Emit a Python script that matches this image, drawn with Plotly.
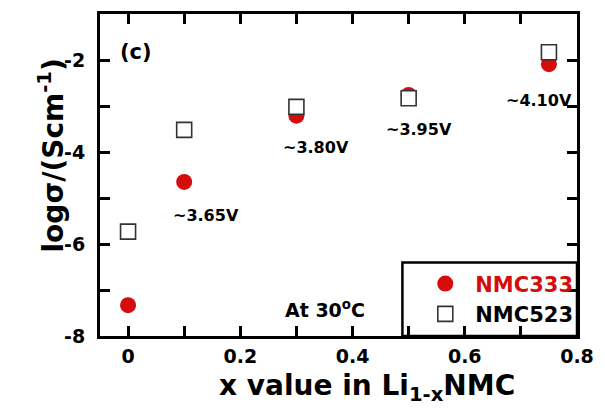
import plotly.graph_objects as go

# Delithiation level x in Li(1-x)NMC
x_values = [0, 0.1, 0.3, 0.5, 0.75]
# log conductivity (S/cm) at 30 C
nmc333 = [-7.33, -4.65, -3.21, -2.76, -2.09]
nmc523 = [-5.73, -3.52, -3.02, -2.83, -1.83]

# Approximate cell voltages annotated next to the points
voltage_labels = ["~3.65V", "~3.80V", "~3.95V", "~4.10V"]
voltage_x = [0.139, 0.335, 0.519, 0.733]
voltage_y = [-5.39, -3.91, -3.50, -2.87]

x_major = [0, 0.2, 0.4, 0.6, 0.8]
x_labels = ["0", "0.2", "0.4", "0.6", "0.8"]
x_minor = [0.1, 0.3, 0.5, 0.7]
y_major = [-8, -6, -4, -2]
y_labels = ["-8", "-6", "-4", "-2"]
y_minor = [-7, -5, -3]

RED = "#d60c0c"
FONT = "DejaVu Sans"

fig = go.Figure()
fig.add_trace(go.Scatter(
    x=x_values, y=nmc333, mode="markers",
    name=f"<span style='color:{RED}'>NMC333</span>",
    marker=dict(symbol="circle", size=16, color=RED, line=dict(width=0)),
))
fig.add_trace(go.Scatter(
    x=x_values, y=nmc523, mode="markers", name="NMC523",
    marker=dict(symbol="square", size=15, color="white",
                line=dict(width=1.6, color="#333333")),
))

for txt, vx, vy in zip(voltage_labels, voltage_x, voltage_y):
    fig.add_annotation(x=vx, y=vy, text=txt, showarrow=False,
                       font=dict(family=FONT, size=16, color="black", weight="bold"))

fig.add_annotation(x=0.351, y=-7.42, text="At 30<sup>o</sup>C", showarrow=False,
                   font=dict(family=FONT, size=19, color="black", weight="bold"))
fig.add_annotation(x=0.015, y=-1.83, text="(c)", showarrow=False,
                   font=dict(family=FONT, size=21, color="black", weight="bold"))

# axis titles as annotations so their positions can be set freely
fig.add_annotation(xref="paper", yref="paper", x=-0.144, y=0.56,
                   text="logσ/(Scm<sup>-1</sup>)", textangle=-90, showarrow=False,
                   font=dict(family=FONT, size=28, color="black", weight="bold"))
fig.add_annotation(xref="paper", yref="paper", x=0.56, y=-0.16, yanchor="middle",
                   text="x value in Li<sub>1-x</sub>NMC", showarrow=False,
                   font=dict(family=FONT, size=28, color="black", weight="bold"))

# legend frame
fig.add_shape(type="rect", xref="paper", yref="paper", x0=0.634, x1=1.0, y0=0.0, y1=0.228,
              line=dict(color="black", width=2.5), fillcolor="white", layer="below")

axis_common = dict(
    showline=True, linecolor="black", linewidth=3, mirror="allticks",
    ticks="inside", ticklen=10, tickwidth=2.5, tickcolor="black",
    showgrid=False, zeroline=False,
    tickfont=dict(family=FONT, size=19, color="black", weight="bold"),
)
minor_common = dict(ticks="inside", ticklen=10, tickwidth=2.5, tickcolor="black",
                    showgrid=False)

fig.update_layout(
    width=605, height=410,
    margin=dict(l=100, r=19, t=11, b=74),
    paper_bgcolor="white", plot_bgcolor="rgba(0,0,0,0)",
    font=dict(family=FONT, color="black", weight="bold"),
    xaxis=dict(range=[-0.05, 0.8], tickvals=x_major, ticktext=x_labels,
               ticklabelstandoff=1, minor=dict(tickvals=x_minor, **minor_common),
               **axis_common),
    yaxis=dict(range=[-8, -1], tickvals=y_major, ticktext=y_labels,
               ticklabelstandoff=8, minor=dict(tickvals=y_minor, **minor_common),
               **axis_common),
    showlegend=True,
    legend=dict(x=0.661, y=0.115, xanchor="left", yanchor="middle",
                bgcolor="rgba(0,0,0,0)", borderwidth=0,
                font=dict(family=FONT, size=21, color="black", weight="bold"),
                itemwidth=50),
)

fig.write_html("out.html")
